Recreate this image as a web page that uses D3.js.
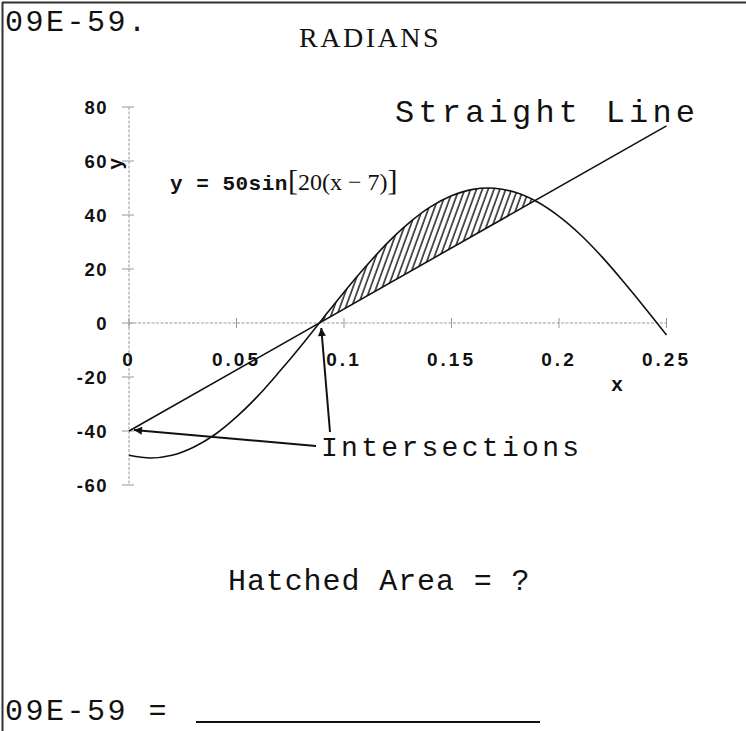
<!DOCTYPE html>
<html>
<head>
<meta charset="utf-8">
<script src="https://cdn.jsdelivr.net/npm/d3@7"></script>
<style>
  body { margin: 0; background: #fff; }
  text { fill: #111; }
</style>
</head>
<body>
<script>

    var W = 746, H = 731;

    // Values
    var xTicks = [0, 0.05, 0.1, 0.15, 0.2, 0.25];
    var xTickLabels = ["0", "0.05", "0.1", "0.15", "0.2", "0.25"];
    var yTicks = [-60, -40, -20, 0, 20, 40, 60, 80];

    // sine curve y = 50sin[20(x - 7)], sampled off the plot every 0.01
    var sineX = [0, 0.01, 0.02, 0.03, 0.04, 0.05, 0.06, 0.07, 0.08, 0.09,
                 0.10, 0.11, 0.12, 0.13, 0.14, 0.15, 0.16, 0.17, 0.18, 0.19,
                 0.20, 0.21, 0.22, 0.23, 0.24, 0.25];
    var sineY = [-49.0, -50.0, -49.0, -46.0, -41.3, -34.8, -27.0, -18.0, -8.5, 1.5,
                 11.4, 20.8, 29.5, 36.9, 42.9, 47.1, 49.5, 49.9, 48.3, 44.8,
                 39.5, 32.7, 24.5, 15.3, 5.6, -4.4];

    // straight line end points
    var lineX = [0, 0.25];
    var lineY = [-40, 73];

    var sineData = sineX.map(function(x, i) { return {x: x, y: sineY[i]}; });
    var lineData = lineX.map(function(x, i) { return {x: x, y: lineY[i]}; });

    var mono = "'Liberation Mono', 'Courier New', monospace";
    var serif = "'Liberation Serif', 'Times New Roman', serif";
    var sans = "'Liberation Sans', Arial, sans-serif";

    var svg = d3.select("body")
    .append("svg")
    .attr("width", W)
    .attr("height", H);

    var x = d3.scaleLinear().domain([0, 0.25]).range([129, 666.5]);
    var y = d3.scaleLinear().domain([-60, 80]).range([485, 107]);

    // page frame (top and left only)
    svg.append("line").attr("x1", 2).attr("y1", 2.5).attr("x2", W).attr("y2", 2.5)
    .attr("stroke", "#333").attr("stroke-width", 2);
    svg.append("line").attr("x1", 2.5).attr("y1", 2).attr("x2", 2.5).attr("y2", H)
    .attr("stroke", "#333").attr("stroke-width", 2);

    // hatch pattern
    var defs = svg.append("defs");
    defs.append("pattern")
    .attr("id", "hatch")
    .attr("patternUnits", "userSpaceOnUse")
    .attr("width", 5.5)
    .attr("height", 10)
    .attr("patternTransform", "rotate(20)")
    .append("line")
    .attr("x1", 1).attr("y1", 0).attr("x2", 1).attr("y2", 10)
    .attr("stroke", "#111").attr("stroke-width", 1.4);

    // clip = region above the straight line
    defs.append("clipPath").attr("id", "aboveLine")
    .append("path")
    .attr("d", d3.area()
        .x(function(d) { return x(d.x); })
        .y0(y(80) - 50)
        .y1(function(d) { return y(d.y); })(lineData));

    // axes, grey dashed with cross ticks
    var axisCol = "#999";
    svg.append("line")
    .attr("x1", x(0)).attr("x2", x(0)).attr("y1", y(80)).attr("y2", y(-60))
    .attr("stroke", axisCol).attr("stroke-dasharray", "3,1.5");
    svg.append("line")
    .attr("x1", x(0)).attr("x2", x(0.25)).attr("y1", y(0)).attr("y2", y(0))
    .attr("stroke", axisCol).attr("stroke-dasharray", "3,1.5");

    svg.selectAll(".ytick")
    .data(yTicks)
    .enter().append("line")
    .attr("class", "ytick")
    .attr("x1", x(0) - 7).attr("x2", x(0) + 5)
    .attr("y1", function(d) { return y(d); })
    .attr("y2", function(d) { return y(d); })
    .attr("stroke", axisCol);

    svg.selectAll(".xtick")
    .data(xTicks)
    .enter().append("line")
    .attr("class", "xtick")
    .attr("x1", function(d) { return x(d); })
    .attr("x2", function(d) { return x(d); })
    .attr("y1", y(0) - 5).attr("y2", y(0) + 5)
    .attr("stroke", axisCol);

    svg.selectAll(".ylab")
    .data(yTicks)
    .enter().append("text")
    .attr("class", "ylab")
    .attr("x", x(0) - 21)
    .attr("y", function(d) { return y(d) + 7; })
    .attr("text-anchor", "end")
    .style("font-family", sans)
    .style("font-size", "18.5px")
    .style("font-weight", "bold")
    .style("letter-spacing", "1.5px")
    .text(function(d) { return d; });

    svg.selectAll(".xlab")
    .data(xTicks)
    .enter().append("text")
    .attr("class", "xlab")
    .attr("x", function(d) { return x(d); })
    .attr("y", y(0) + 43)
    .attr("text-anchor", "middle")
    .style("font-family", sans)
    .style("font-size", "19px")
    .style("font-weight", "bold")
    .style("letter-spacing", "3px")
    .text(function(d, i) { return xTickLabels[i]; });

    // axis titles
    svg.append("text")
    .attr("transform", "translate(122," + y(59) + ") rotate(-90)")
    .attr("text-anchor", "middle")
    .style("font-family", mono)
    .style("font-size", "20px")
    .style("font-weight", "bold")
    .text("y");

    svg.append("text")
    .attr("x", 617).attr("y", y(-25))
    .attr("text-anchor", "middle")
    .style("font-family", mono)
    .style("font-size", "20px")
    .style("font-weight", "bold")
    .text("x");

    // hatched area: below the sine curve, above the line
    var curve = d3.curveCatmullRom;
    svg.append("g")
    .attr("clip-path", "url(#aboveLine)")
    .append("path")
    .attr("d", d3.area()
        .curve(curve)
        .x(function(d) { return x(d.x); })
        .y0(y(-60))
        .y1(function(d) { return y(d.y); })(sineData))
    .attr("fill", "url(#hatch)");

    // curves
    svg.append("path")
    .attr("d", d3.line().curve(curve)
        .x(function(d) { return x(d.x); })
        .y(function(d) { return y(d.y); })(sineData))
    .attr("fill", "none").attr("stroke", "#111").attr("stroke-width", 1.6);

    svg.append("path")
    .attr("d", d3.line()
        .x(function(d) { return x(d.x); })
        .y(function(d) { return y(d.y); })(lineData))
    .attr("fill", "none").attr("stroke", "#111").attr("stroke-width", 1.6);

    // arrows
    defs.append("marker")
    .attr("id", "head")
    .attr("viewBox", "0 0 10 10")
    .attr("refX", 10).attr("refY", 5)
    .attr("markerWidth", 16).attr("markerHeight", 8)
    .attr("markerUnits", "userSpaceOnUse")
    .attr("orient", "auto")
    .append("path").attr("d", "M0,0 L10,5 L0,10 z").attr("fill", "#111");

    svg.append("line")
    .attr("x1", 316).attr("y1", 446)
    .attr("x2", x(0) + 5).attr("y2", y(-40) - 1)
    .attr("stroke", "#111").attr("stroke-width", 2)
    .attr("marker-end", "url(#head)");

    svg.append("line")
    .attr("x1", 330).attr("y1", 432)
    .attr("x2", x(0.0885) + 2).attr("y2", y(0) + 5)
    .attr("stroke", "#111").attr("stroke-width", 2)
    .attr("marker-end", "url(#head)");

    // texts
    svg.append("text")
    .attr("x", 5).attr("y", 31)
    .style("font-family", mono).style("font-size", "30px")
    .style("letter-spacing", "2.5px")
    .text("09E-59.");

    svg.append("text")
    .attr("x", 370).attr("y", 47)
    .attr("text-anchor", "middle")
    .style("font-family", serif).style("font-size", "28px")
    .style("letter-spacing", "2.5px")
    .text("RADIANS");

    svg.append("text")
    .attr("x", 395).attr("y", 122)
    .style("font-family", mono).style("font-size", "32px")
    .style("letter-spacing", "4.2px")
    .text("Straight Line");

    var eq = svg.append("text")
    .attr("x", 170).attr("y", 190);
    eq.append("tspan")
    .style("font-family", mono).style("font-size", "21px")
    .style("font-weight", "bold")
    .style("letter-spacing", "0.5px")
    .text("y = 50sin");
    eq.append("tspan")
    .style("font-family", serif).style("font-size", "30px")
    .text("[");
    eq.append("tspan")
    .style("font-family", serif).style("font-size", "24px")
    .text("20(x \u2212 7)");
    eq.append("tspan")
    .style("font-family", serif).style("font-size", "30px")
    .text("]");

    svg.append("text")
    .attr("x", 321).attr("y", 456)
    .style("font-family", mono).style("font-size", "28px")
    .style("letter-spacing", "3.3px")
    .text("Intersections");

    svg.append("text")
    .attr("x", 228).attr("y", 590)
    .style("font-family", mono).style("font-size", "30px")
    .style("letter-spacing", "0.9px")
    .text("Hatched Area = ?");

    svg.append("text")
    .attr("x", 5).attr("y", 720)
    .style("font-family", mono).style("font-size", "30px")
    .style("letter-spacing", "2.5px")
    .text("09E-59 =");

    svg.append("line")
    .attr("x1", 196).attr("x2", 540).attr("y1", 722).attr("y2", 722)
    .attr("stroke", "#111").attr("stroke-width", 2);

</script>
</body>
</html>
